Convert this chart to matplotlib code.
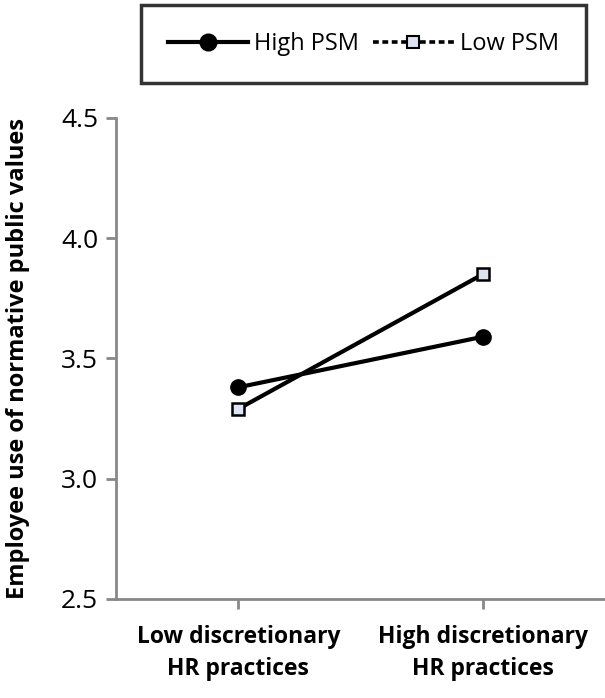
import matplotlib
matplotlib.use("Agg")
import matplotlib.pyplot as plt
from matplotlib.lines import Line2D

categories = ["Low discretionary\nHR practices", "High discretionary\nHR practices"]
high_psm = [3.38, 3.59]
low_psm = [3.29, 3.85]
yticks = [2.5, 3.0, 3.5, 4.0, 4.5]

plt.rcParams['font.family'] = ['Open Sans', 'DejaVu Sans']

fig = plt.figure(figsize=(6.05, 6.98), dpi=100)
ax = fig.add_axes([0.192, 0.142, 0.808, 0.689])

x = list(range(len(categories)))
ax.plot(x, high_psm, color='black', lw=3, marker='o', ms=11, mfc='black', mec='black', zorder=3)
ax.plot(x, low_psm, color='black', lw=3, marker='s', ms=9, mfc='#dde3f0', mec='black', mew=1.8, zorder=3)

ax.set_xlim(-0.5, 1.5)
ax.set_ylim(2.5, 4.5)
ax.set_yticks(yticks)
ax.set_yticklabels([f"{v:.1f}" for v in yticks], fontsize=19)
ax.set_xticks(x)
ax.set_xticklabels(categories, fontsize=16.5, fontweight='bold', linespacing=1.45)
ax.tick_params(axis='y', length=7, width=2, color='#888888', pad=6)
ax.tick_params(axis='x', length=7, width=2, color='#888888', pad=12)
for s in ['top', 'right']:
    ax.spines[s].set_visible(False)
for s in ['left', 'bottom']:
    ax.spines[s].set_color('#888888')
    ax.spines[s].set_linewidth(2)
ax.set_ylabel("Employee use of normative public values", fontsize=17, fontweight='bold')
ax.yaxis.set_label_coords(-0.176, 0.5)

handles = [
    Line2D([], [], color='black', lw=3, marker='o', ms=12, mfc='black'),
    Line2D([], [], color='black', lw=2.6, ls=(0, (1.6, 1.0)), marker='s', ms=9, mfc='#dde3f0', mec='black', mew=1.5),
]
leg = fig.legend(handles, ["High PSM", "Low PSM"], loc='upper left', bbox_to_anchor=(0.233, 0.993),
                 ncol=2, fontsize=17, frameon=True, fancybox=False, edgecolor='black',
                 handlelength=3.4, handletextpad=0.25, columnspacing=0.6, borderpad=1.15,
                 borderaxespad=0.0)
leg.get_frame().set_linewidth(2.5)

fig.savefig("out.png", dpi=100)
